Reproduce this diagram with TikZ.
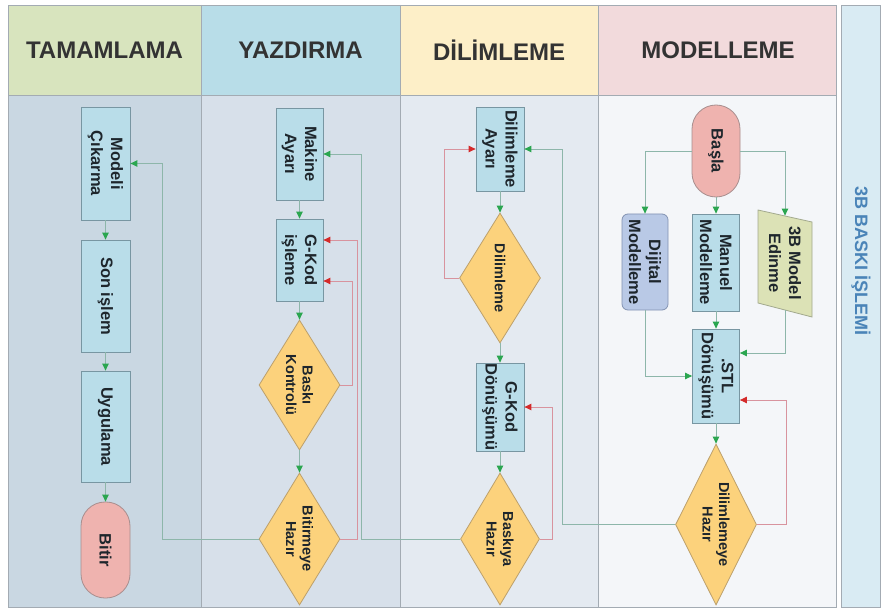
\documentclass[tikz,border=0pt]{standalone}
\usepackage{fontspec}
\setmainfont{Liberation Sans}
\usetikzlibrary{arrows.meta,shapes.geometric}
\definecolor{frameln}{HTML}{A3ABB3}
\definecolor{hA}{HTML}{D8E4BE}
\definecolor{hB}{HTML}{B8DDE8}
\definecolor{hC}{HTML}{FDEFC8}
\definecolor{hD}{HTML}{F2DADC}
\definecolor{bA}{HTML}{C9D7E2}
\definecolor{bB}{HTML}{D7E0EA}
\definecolor{bC}{HTML}{E4EAF1}
\definecolor{bD}{HTML}{F4F6F9}
\definecolor{band}{HTML}{D9EBF3}
\definecolor{bandtxt}{HTML}{4A84B8}
\definecolor{hdrtxt}{HTML}{333333}
\definecolor{txt}{HTML}{1E262C}
\definecolor{boxfill}{HTML}{B9DDE9}
\definecolor{boxline}{HTML}{7896A2}
\definecolor{decfill}{HTML}{FCD27C}
\definecolor{decline}{HTML}{BCA06C}
\definecolor{termfill}{HTML}{EFB3AF}
\definecolor{termline}{HTML}{A88E8E}
\definecolor{dijfill}{HTML}{B9C9E6}
\definecolor{dijline}{HTML}{8292B2}
\definecolor{edfill}{HTML}{DCE2B6}
\definecolor{edline}{HTML}{A2A98E}
\definecolor{gline}{HTML}{8DB6AA}
\definecolor{garrow}{HTML}{2BA650}
\definecolor{rline}{HTML}{D8939E}
\definecolor{rarrow}{HTML}{D42A2A}
\begin{document}
\begin{tikzpicture}[x=1pt,y=-1pt,
  nd/.style={rotate=-90, draw=boxline, line width=0.8pt, inner sep=0pt, align=center, text=txt, font=\bfseries\fontsize{16.5}{20}\selectfont},
  box/.style={nd, rectangle, fill=boxfill},
  dec/.style={nd, diamond, fill=decfill, draw=decline, font=\bfseries\fontsize{14.5}{16.5}\selectfont},
  term/.style={nd, rectangle, rounded corners=24pt, fill=termfill, draw=termline},
  hdr/.style={text=hdrtxt, font=\bfseries\fontsize{24}{27}\selectfont},
  gl/.style={draw=gline, line width=0.9pt, -{Triangle[length=7pt,width=6.5pt,color=garrow]}},
  rl/.style={draw=rline, line width=0.9pt, -{Triangle[length=7pt,width=6.5pt,color=rarrow]}},
]
\useasboundingbox (0,0) rectangle (882,612);
\fill[white] (0,0) rectangle (882,612);
% lane bodies
\fill[bA] (8,95) rectangle (201,607);
\fill[bB] (201,95) rectangle (400,607);
\fill[bC] (400,95) rectangle (598,607);
\fill[bD] (598,95) rectangle (836,607);
% headers
\fill[hA] (8,5) rectangle (201,95);
\fill[hB] (201,5) rectangle (400,95);
\fill[hC] (400,5) rectangle (598,95);
\fill[hD] (598,5) rectangle (836,95);
\draw[frameln, line width=0.8pt] (8,5) rectangle (836,607);
\draw[frameln, line width=0.8pt] (201,5) -- (201,607) (400,5) -- (400,607) (598,5) -- (598,607) (8,95) -- (836,95);
\filldraw[fill=band, draw=frameln, line width=0.8pt] (841,5) rectangle (880,607);
\node[hdr] (hA) at (104.5,50) {TAMAMLAMA};
\node[hdr] (hB) at (300.5,50) {YAZDIRMA};
\node[hdr] (hC) at (499,50) {DİLİMLEME};
\node[hdr] (hD) at (718,50) {MODELLEME};
\node[rotate=-90, text=bandtxt, font=\bfseries\fontsize{18}{21}\selectfont] (ttl) at (861,261) {3B BASKI İŞLEMİ};
% TAMAMLAMA
\node[box, minimum width=113pt, minimum height=49pt] (cik) at (105.5,163.5) {Modeli\\Çıkarma};
\node[box, minimum width=112pt, minimum height=49pt] (son) at (105.5,296) {Son işlem};
\node[box, minimum width=111pt, minimum height=49pt] (uyg) at (105.5,426.5) {Uygulama};
\node[term, minimum width=96pt, minimum height=49pt] (bitir) at (105.5,550) {Bitir};
% YAZDIRMA
\node[box, minimum width=92pt, minimum height=47pt] (mak) at (299.5,154) {Makine\\Ayarı};
\node[box, minimum width=82pt, minimum height=47pt] (gki) at (299.5,260) {G-Kod\\işleme};
\node[dec, shape aspect=1.6, minimum width=130pt, minimum height=81pt] (bk) at (299.5,385) {Baskı\\Kontrolü};
\node[dec, shape aspect=1.6, minimum width=132pt, minimum height=81pt] (bh) at (299.5,539) {Bitirmeye\\Hazır};
% DILIMLEME
\node[box, minimum width=84pt, minimum height=48pt] (day) at (500,149) {Dilimleme\\Ayarı};
\node[dec, shape aspect=1.6, minimum width=130pt, minimum height=81pt] (dil) at (500,278) {Dilimleme};
\node[box, minimum width=88pt, minimum height=48pt] (gkd) at (500,407) {G-Kod\\Dönüşümü};
\node[dec, shape aspect=1.6, minimum width=132pt, minimum height=79pt] (bhz) at (500,539) {Baskıya\\Hazır};
% MODELLEME
\node[term, minimum width=92pt, minimum height=48pt] (basla) at (716,151) {Başla};
\node[box, rounded corners=6pt, fill=dijfill, draw=dijline, minimum width=96pt, minimum height=46pt] (dij) at (645,262) {Dijital\\Modelleme};
\node[box, minimum width=97pt, minimum height=47pt] (man) at (716,262.5) {Manuel\\Modelleme};
\filldraw[fill=edfill, draw=edline, line width=0.8pt] (758,210) -- (812,222) -- (812,317) -- (758,303) -- cycle;
\node[nd, draw=none, minimum width=94pt, minimum height=54pt] (edn) at (785,263) {3B Model\\Edinme};
\node[box, minimum width=94pt, minimum height=47pt] (stl) at (716,376) {.STL\\Dönüşümü};
\node[dec, shape aspect=2, minimum width=161pt, minimum height=81pt] (dh) at (716,524.5) {Dilimlemeye\\Hazır};
% bend points
\coordinate (t1) at (162,163.5);
\coordinate (t2) at (361,154);
\coordinate (t3) at (562,149);
\coordinate (t4) at (785,353);
\coordinate (r1) at (357,240);
\coordinate (r2) at (352,281);
\coordinate (r3) at (444,149);
\coordinate (r4) at (552,407);
\coordinate (r5) at (786,400);
% green connectors
\draw[gl] (cik) -- (son);
\draw[gl] (son) -- (uyg);
\draw[gl] (uyg) -- (bitir);
\draw[gl] (mak) -- (gki);
\draw[gl] (gki) -- (bk);
\draw[gl] (bk) -- (bh);
\draw[gl] (day) -- (dil);
\draw[gl] (dil) -- (gkd);
\draw[gl] (gkd) -- (bhz);
\draw[gl] (basla) -- (man);
\draw[gl] (man) -- (stl);
\draw[gl] (stl) -- (dh);
\draw[gl] (basla.south) -| (dij.west);
\draw[gl] (basla.north) -| (edn.west);
\draw[gl] (dij.east) |- (stl.south);
\draw[gl] (edn.east) -- (t4) -- (stl.north |- t4);
\draw[gl] (bh.south) -| (t1) -- (cik.north |- t1);
\draw[gl] (bhz.south) -| (t2) -- (mak.north |- t2);
\draw[gl] (dh.south) -| (t3) -- (day.north |- t3);
% red connectors
\draw[rl] (bh.north) -| (r1) -- (gki.north |- r1);
\draw[rl] (bk.north) -| (r2) -- (gki.north |- r2);
\draw[rl] (dil.south) -| (r3) -- (day.south |- r3);
\draw[rl] (bhz.north) -| (r4) -- (gkd.north |- r4);
\draw[rl] (dh.north) -| (r5) -- (stl.north |- r5);
\end{tikzpicture}
\end{document}
